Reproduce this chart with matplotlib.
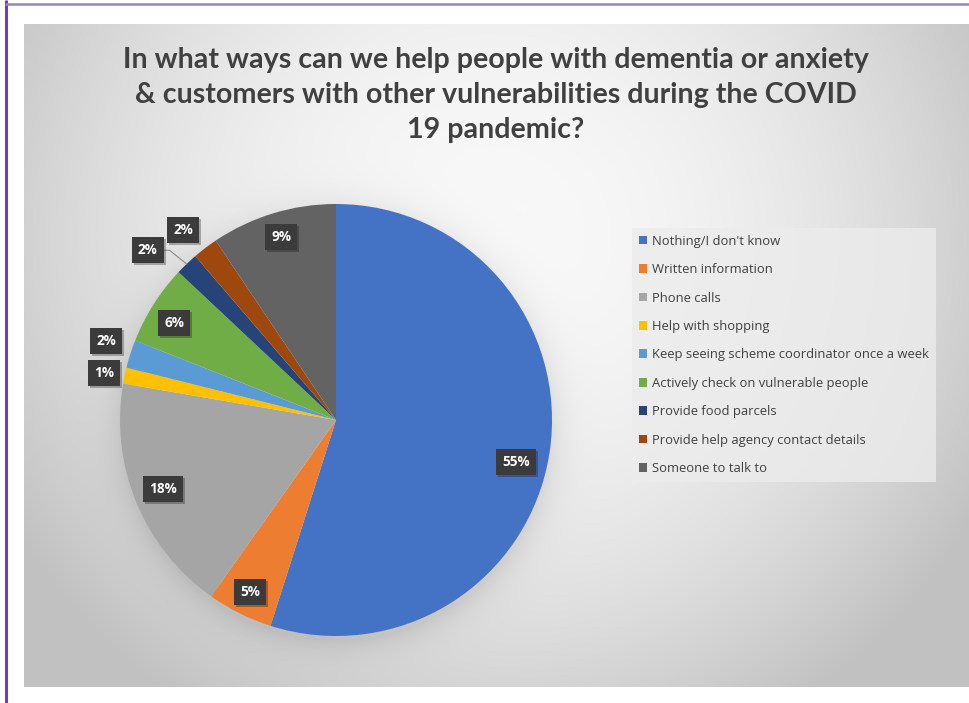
import numpy as np
import matplotlib
matplotlib.use("Agg")
import matplotlib.pyplot as plt
import matplotlib.patheffects as pe

# data
categories = ["Nothing/I don't know", "Written information", "Phone calls",
              "Help with shopping", "Keep seeing scheme coordinator once a week",
              "Actively check on vulnerable people", "Provide food parcels",
              "Provide help agency contact details", "Someone to talk to"]
shares = [54.9, 4.9, 17.9, 1.2, 2.1, 6.0, 1.7, 1.9, 9.4]
colors = ["#4472C4", "#ED7D31", "#A5A5A5", "#FFC000", "#5B9BD5",
          "#70AD47", "#264478", "#9E480E", "#636363"]
title = ("In what ways can we help people with dementia or anxiety\n"
         "& customers with other vulnerabilities during the COVID\n"
         "19 pandemic?")

# label placement (radius as fraction of pie radius, angle shift in degrees)
label_r = [0.855, 0.89, 0.86, 1.096, 1.126, 0.874, 1.173, 1.13, 0.885]
label_dt = [-4.3, 0, -0.8, 0.4, -1.2, 1.5, 4.2, 1.5, -0.2]

W, H = 969, 703
fig = plt.figure(figsize=(W / 100, H / 100), dpi=100)
fig.patch.set_facecolor("white")

# background: chart area with radial gray gradient + soft pie shadow
bg = fig.add_axes([0, 0, 1, 1])
bg.set_xlim(0, W)
bg.set_ylim(H, 0)
bg.axis("off")
x0, x1, y0, y1 = 24, 969, 24, 687
xx, yy = np.meshgrid(np.arange(x0, x1), np.arange(y0, y1))
r = np.hypot(xx - 490, yy - 240)
img = 0.975 - 0.19 * (r / 520) ** 2
img = np.clip(img, 0.76, 1)
d = np.hypot(xx - 336, yy - 426)
img = img - 0.09 * np.exp(-np.clip(d - 214, 0, None) / 16) * (d > 200)
rgb = np.dstack([img, img, img])
bg.imshow(rgb, extent=(x0, x1, y1, y0), aspect="auto", interpolation="bilinear", zorder=0)
bg.plot([6, 6], [0, H], color="#6a44aa", lw=2.2, solid_capstyle="butt")
bg.plot([5, W], [3.5, 3.5], color="#9585c6", lw=1.8, solid_capstyle="butt")

# pie
R = 216
cx, cy = 336, H - 420
ax = fig.add_axes([(cx - 1.5 * R) / W, (cy - 1.5 * R) / H, 3 * R / W, 3 * R / H])
wedges, _ = ax.pie(shares, colors=colors, startangle=90, counterclock=False,
                   wedgeprops=dict(linewidth=0))
ax.set_xlim(-1.5, 1.5)
ax.set_ylim(-1.5, 1.5)
ax.set_aspect("equal")
ax.axis("off")

total = sum(shares)
for i, w in enumerate(wedges):
    mid = (w.theta1 + w.theta2) / 2
    th = np.deg2rad(mid + label_dt[i])
    lx, ly = label_r[i] * np.cos(th), label_r[i] * np.sin(th)
    t = ax.text(lx, ly, f"{shares[i] / total * 100:.0f}%", ha="center", va="center",
                color="white", fontsize=9.8, fontweight="bold", family="Open Sans",
                bbox=dict(boxstyle="square,pad=0.45", fc="#3b3b3b", ec="none"), zorder=5)
    t.get_bbox_patch().set_path_effects([pe.SimplePatchShadow(offset=(1.5, -1.5), alpha=0.3),
                                         pe.Normal()])
    if label_r[i] > 1.15:
        ex, ey = np.cos(np.deg2rad(mid)), np.sin(np.deg2rad(mid))
        ax.plot([lx + 0.07, lx + 0.1, ex], [ly, ly, ey], color="#8a8a8a", lw=0.8, zorder=4)

# title
fig.text(496 / W, (H - 95) / H, title, ha="center", va="center", color="#404040",
         fontsize=20.6, fontweight="bold", family="Lato", linespacing=1.43)

# legend
leg = fig.legend(wedges, categories, loc="upper left", bbox_to_anchor=(625 / W, (H - 221) / H),
                 frameon=True, fancybox=False, handlelength=0.65, handleheight=0.65,
                 handletextpad=0.4, labelspacing=1.18, borderpad=0.55,
                 prop=dict(family="Open Sans", size=9.4))
leg.get_frame().set_facecolor("#ececec")
leg.get_frame().set_edgecolor("none")
for txt in leg.get_texts():
    txt.set_color("#404040")

fig.savefig("out.png", dpi=100)
